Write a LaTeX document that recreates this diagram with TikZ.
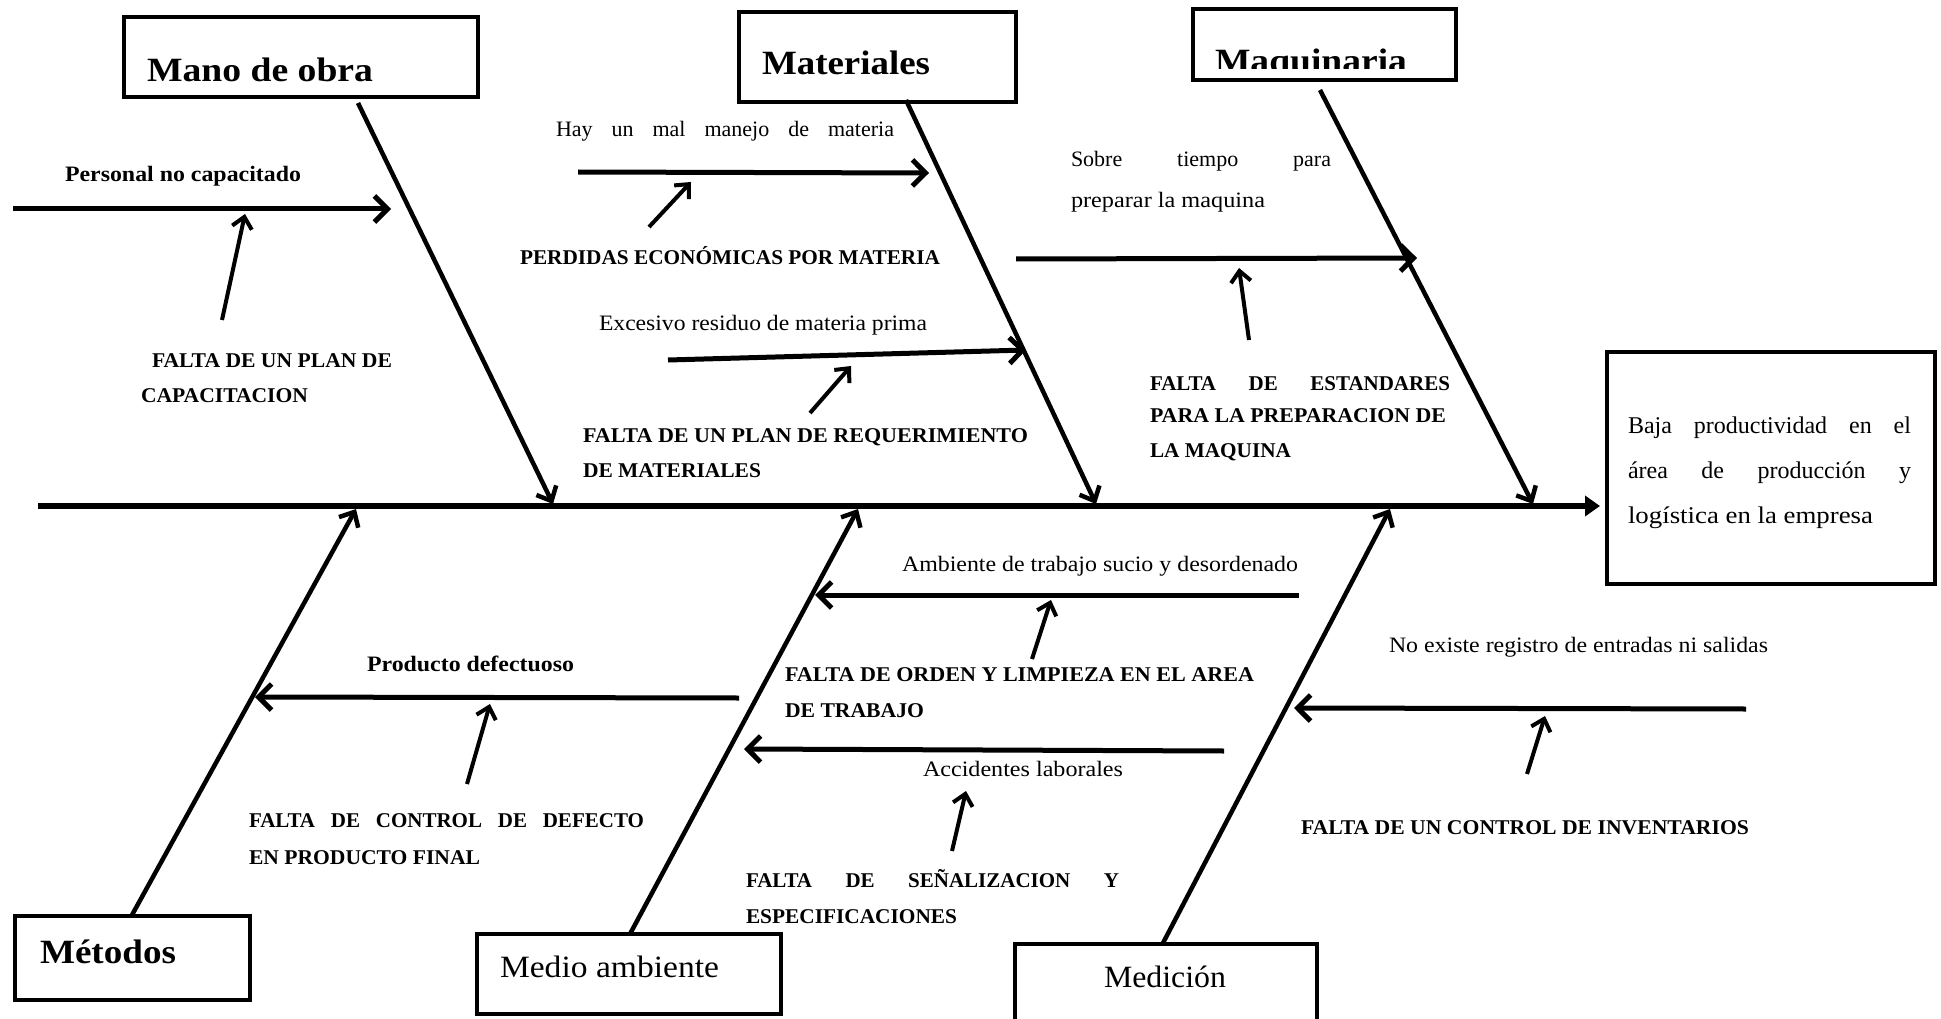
\documentclass[tikz,border=0pt]{standalone}
\usepackage{fontspec}
\setmainfont{Liberation Serif}
\usepackage{graphicx}
\usetikzlibrary{arrows.meta}

% one line of text scaled horizontally to a given width (pt)
\newcommand{\fitline}[2]{\resizebox{#1pt}{\height}{#2}}
% one justified line: word spaces stretched to a given width (pt)
\newcommand{\spreadline}[2]{\makebox[#1pt][s]{#2}}

\tikzset{
  every node/.style={inner sep=0pt, outer sep=0pt},
  box/.style={draw, rectangle, line width=4.5pt},
  hdr/.style={anchor=base west, font=\fontsize{34}{40}\selectfont\bfseries},
  hdrlight/.style={anchor=base west, font=\fontsize{31}{36}\selectfont},
  cause/.style={anchor=base west, font=\fontsize{21}{25}\selectfont\bfseries},
  note/.style={anchor=base west, font=\fontsize{22}{26}\selectfont},
  effecttxt/.style={anchor=base west, font=\fontsize{24}{28}\selectfont},
  spine/.style={line width=6pt, -{Triangle[length=15pt,width=20pt]}},
  bone/.style={line width=4.5pt, -{Straight Barb[length=12pt,width=22pt]}},
  branch/.style={line width=5pt, -{Straight Barb[length=13pt,width=26pt]}},
  hint/.style={line width=4pt, -{Straight Barb[length=11pt,width=20pt]}},
}

\begin{document}
\begin{tikzpicture}[x=1pt,y=-1pt]
\clip (0,0) rectangle (1941,1019);
\fill[white] (0,0) rectangle (1941,1019);

% ---------- boxes ----------
\node[box, minimum width=354pt, minimum height=80pt] (manoBox) at (301,57) {};
\node[box, minimum width=277pt, minimum height=90pt] (matBox) at (877.5,57) {};
\node[box, minimum width=263pt, minimum height=71pt] (maqBox) at (1324.5,44.5) {};
\node[box, minimum width=328pt, minimum height=232pt] (effBox) at (1771,468) {};
\node[box, minimum width=235pt, minimum height=84pt] (metBox) at (132.5,958) {};
\node[box, minimum width=304pt, minimum height=80pt] (medBox) at (629,974) {};
\node[box, minimum width=302pt, minimum height=86pt] (mcnBox) at (1166,987) {};

% ---------- box titles ----------
\node[hdr] (manoT) at (147,82) {\fitline{226}{Mano de obra}};
\node[hdr] (matT) at (762,75) {\fitline{168}{Materiales}};
\begin{scope}
  \clip (1193,9) rectangle (1456,69);
  \node[hdr] (maqT) at (1215,73) {\fitline{192}{Maquinaria}};
\end{scope}
\node[hdr] (metT) at (40,963) {\fitline{136}{Métodos}};
\node[hdrlight] (medT) at (500,977) {\fitline{219}{Medio ambiente}};
\node[hdrlight] (mcnT) at (1104,987) {\fitline{122}{Medición}};

% effect text
\node[effecttxt] (eff1) at (1628,433) {\spreadline{283}{Baja productividad en el}};
\node[effecttxt] (eff2) at (1628,478) {\spreadline{283}{área de producción y}};
\node[effecttxt] (eff3) at (1628,523) {\fitline{245}{logística en la empresa}};

% ---------- spine and main bones ----------
\coordinate (spineS) at (38,506);
\coordinate (spineE) at (1600,506);
\draw[spine] (spineS) -- (spineE);

\coordinate (manoA) at (358,103);   \coordinate (manoB) at (553,504);
\coordinate (matA) at (906,100);    \coordinate (matB) at (1096,504);
\coordinate (maqA) at (1320,90);    \coordinate (maqB) at (1533,504);
\coordinate (metA) at (132,915);    \coordinate (metB) at (356,509);
\coordinate (medA) at (630,934);    \coordinate (medB) at (858,509);
\coordinate (mcnA) at (1163,943);   \coordinate (mcnB) at (1390,509);
\draw[bone] (manoA) -- (manoB);
\draw[bone] (matA) -- (matB);
\draw[bone] (maqA) -- (maqB);
\draw[bone] (metA) -- (metB);
\draw[bone] (medA) -- (medB);
\draw[bone] (mcnA) -- (mcnB);

% ---------- Mano de obra ----------
\node[cause, font=\fontsize{22}{26}\selectfont\bfseries] (pnc) at (65,182) {\fitline{236}{Personal no capacitado}};
\coordinate (b1s) at (13,209);  \coordinate (b1e) at (391,209);
\draw[branch] (b1s) -- (b1e);
\coordinate (h1s) at (222,320); \coordinate (h1e) at (245,214);
\draw[hint] (h1s) -- (h1e);
\node[cause] (fpc1) at (152,367) {\fitline{240}{FALTA DE UN PLAN DE}};
\node[cause] (fpc2) at (141,402) {\fitline{167}{CAPACITACION}};

% ---------- Materiales ----------
\node[note] (mal) at (556,137) {\spreadline{338}{Hay un mal manejo de materia}};
\coordinate (b2s) at (578,172); \coordinate (b2e) at (929,173);
\draw[branch] (b2s) -- (b2e);
\coordinate (h2s) at (649,227); \coordinate (h2e) at (691,182);
\draw[hint] (h2s) -- (h2e);
\node[cause] (perd) at (520,265) {\fitline{420}{PERDIDAS ECONÓMICAS POR MATERIA}};
\node[note] (exc) at (599,330) {\fitline{328}{Excesivo residuo de materia prima}};
\coordinate (b3s) at (668,360); \coordinate (b3e) at (1026,350);
\draw[branch] (b3s) -- (b3e);
\coordinate (h3s) at (810,413); \coordinate (h3e) at (851,366);
\draw[hint] (h3s) -- (h3e);
\node[cause] (req1) at (583,442) {\fitline{445}{FALTA DE UN PLAN DE REQUERIMIENTO}};
\node[cause] (req2) at (583,477) {\fitline{178}{DE MATERIALES}};

% ---------- Maquinaria ----------
\node[note] (sob1) at (1071,167) {\spreadline{260}{Sobre tiempo para}};
\node[note] (sob2) at (1071,208) {\fitline{194}{preparar la maquina}};
\coordinate (b4s) at (1016,259); \coordinate (b4e) at (1417,258);
\draw[branch] (b4s) -- (b4e);
\coordinate (h4s) at (1249,340); \coordinate (h4e) at (1239,268);
\draw[hint] (h4s) -- (h4e);
\node[cause] (est1) at (1150,390) {\spreadline{300}{FALTA DE ESTANDARES}};
\node[cause] (est2) at (1150,422) {\fitline{296}{PARA LA PREPARACION DE}};
\node[cause] (est3) at (1150,457) {\fitline{141}{LA MAQUINA}};

% ---------- Métodos ----------
\node[cause, font=\fontsize{22}{26}\selectfont\bfseries] (pdef) at (367,671) {\fitline{207}{Producto defectuoso}};
\coordinate (b5s) at (739,698); \coordinate (b5e) at (255,697);
\draw[branch] (b5s) -- (b5e);
\coordinate (h5s) at (467,784); \coordinate (h5e) at (490,704);
\draw[hint] (h5s) -- (h5e);
\node[cause] (cdf1) at (249,827) {\spreadline{395}{FALTA DE CONTROL DE DEFECTO}};
\node[cause] (cdf2) at (249,864) {\fitline{231}{EN PRODUCTO FINAL}};

% ---------- Medio ambiente ----------
\node[note] (amb) at (902,571) {\fitline{396}{Ambiente de trabajo sucio y desordenado}};
\coordinate (b6s) at (1299,595); \coordinate (b6e) at (815,595);
\draw[branch] (b6s) -- (b6e);
\coordinate (h6s) at (1032,659); \coordinate (h6e) at (1051,600);
\draw[hint] (h6s) -- (h6e);
\node[cause] (ord1) at (785,681) {\fitline{469}{FALTA DE ORDEN Y LIMPIEZA EN EL AREA}};
\node[cause] (ord2) at (785,717) {\fitline{139}{DE TRABAJO}};
\coordinate (b7s) at (1224,751); \coordinate (b7e) at (744,749);
\draw[branch] (b7s) -- (b7e);
\node[note] (acc) at (923,776) {\fitline{200}{Accidentes laborales}};
\coordinate (h7s) at (952,851); \coordinate (h7e) at (966,791);
\draw[hint] (h7s) -- (h7e);
\node[cause] (sen1) at (746,887) {\spreadline{373}{FALTA DE SEÑALIZACION Y}};
\node[cause] (sen2) at (746,923) {\fitline{211}{ESPECIFICACIONES}};

% ---------- Medición ----------
\node[note] (reg) at (1389,652) {\fitline{379}{No existe registro de entradas ni salidas}};
\coordinate (b8s) at (1746,709); \coordinate (b8e) at (1294,708);
\draw[branch] (b8s) -- (b8e);
\coordinate (h8s) at (1527,774); \coordinate (h8e) at (1545,716);
\draw[hint] (h8s) -- (h8e);
\node[cause] (inv) at (1301,834) {\fitline{448}{FALTA DE UN CONTROL DE INVENTARIOS}};
\end{tikzpicture}
\end{document}
